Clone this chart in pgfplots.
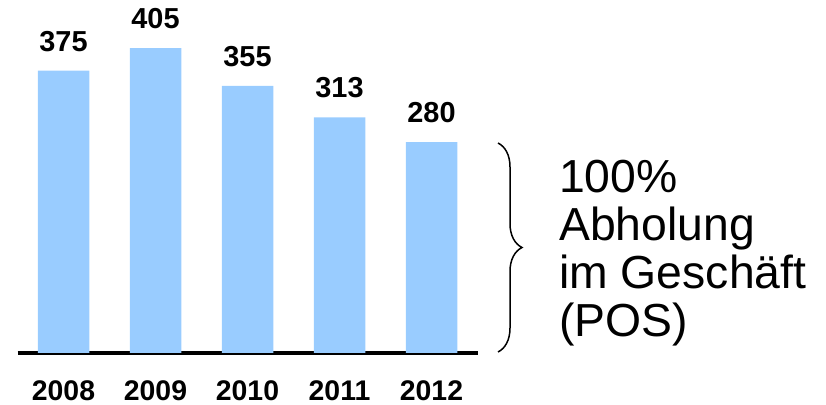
\documentclass[border=0pt]{standalone}
\usepackage{pgfplots}
\pgfplotsset{compat=1.18}
\usepackage{fontspec}
\setmainfont{Liberation Sans}
\usetikzlibrary{decorations.pathreplacing}
\definecolor{barblue}{RGB}{153,204,255}
\begin{document}
\begin{tikzpicture}
\useasboundingbox (0,0) rectangle (826bp,405bp);
\begin{axis}[
  at={(17.5bp,52bp)}, anchor=south west,
  scale only axis, width=460bp, height=353bp,
  xmin=-0.5, xmax=4.5, ymin=0, ymax=469,
  axis y line=none,
  axis x line=bottom,
  x axis line style={-, line width=3.8bp, black},
  xtick=data,
  xticklabels={2008,2009,2010,2011,2012},
  major tick length=0pt,
  xticklabel style={anchor=base, inner sep=0pt, yshift=-47.5bp, font=\fontsize{28.5}{28.5}\selectfont\bfseries},
  ytick=\empty,
  clip=false,
  point meta=y,
  nodes near coords={\pgfmathprintnumber[assume math mode=true]{\pgfplotspointmeta}},
  nodes near coords style={anchor=base, inner sep=0pt, yshift=19.5bp, font=\fontsize{29}{29}\selectfont\bfseries},
]
\addplot[ybar, bar width=51.5bp, fill=barblue, draw=none] coordinates {
(0,375) (1,405) (2,355) (3,313) (4,280)
};
\end{axis}
\draw[line width=1.5bp, decorate, decoration={brace, amplitude=24bp}] (498bp,262bp) -- (498bp,53bp);
\node[anchor=base west, inner sep=0pt, font=\fontsize{46.5}{48}\selectfont] at (559bp,212bp) {100\%};
\node[anchor=base west, inner sep=0pt, font=\fontsize{46.5}{48}\selectfont] at (559bp,164bp) {Abholung};
\node[anchor=base west, inner sep=0pt, font=\fontsize{46.5}{48}\selectfont] at (559bp,116bp) {im Geschäft};
\node[anchor=base west, inner sep=0pt, font=\fontsize{46.5}{48}\selectfont] at (559bp,68bp) {(POS)};
\end{tikzpicture}
\end{document}
